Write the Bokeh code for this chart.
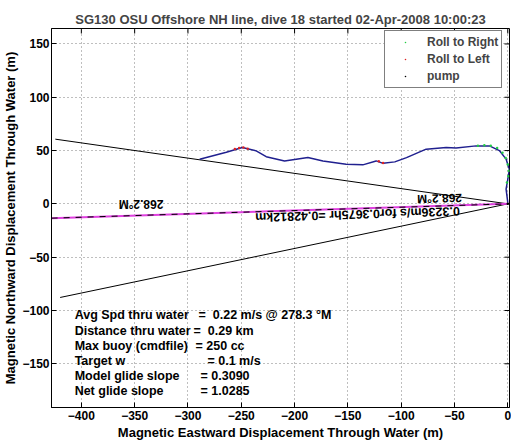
import math
from bokeh.plotting import figure
from bokeh.models import Range1d, FixedTicker, Legend, LegendItem, Label
from bokeh.embed import file_html
from bokeh.resources import INLINE

# ---------------- data ----------------
title_text = "SG130 OSU Offshore NH line, dive 18 started 02-Apr-2008 10:00:23"
x_label = "Magnetic Eastward Displacement Through Water (m)"
y_label = "Magnetic Northward Displacement Through Water (m)"

x_ticks = [-400, -350, -300, -250, -200, -150, -100, -50, 0]
y_ticks = [-150, -100, -50, 0, 50, 100, 150]

# glider track through water (m)
traj_x = [0, -1.6, 0, 1.5, 0, -1.6, -7.9, -17.2, -29.7, -48.5, -57.8, -76.6, -95, -106,
          -117, -123.5, -136, -151.6, -173.4, -187.5, -209.4, -226.6, -236, -249, -264, -289]
traj_y = [1.2, 13.8, 23, 32.5, 37, 42, 50, 54.4, 54.4, 52.3, 52.8, 51.3, 43.4, 39.4,
          38, 40.3, 36.6, 37.2, 40.3, 43.4, 40.3, 44.3, 49.7, 52.8, 48.5, 41.9]

# roll markers
roll_right_x = [-28, -22, -16, -10, -5, -2, 0, 1, 0.5, -0.8]
roll_right_y = [54.5, 54.9, 54.6, 52.5, 48, 43, 37, 31, 26, 20]
roll_left_x = [-256, -252, -248, -244, -121, -117]
roll_left_y = [51.5, 52.5, 52.8, 51.8, 40.0, 38.3]
pump_x = [0]
pump_y = [0]

# heading cone (+/-10 deg) and mean heading line
cone_x = [-424.4, 0, -419.9]
cone_y = [60.7, 0, -87.8]
head_x = [-427.9, 0]
head_y = [-13.4, 0]

heading_label = "268.2°M"
speed_label = "0.3236m/s for0.3675hr =0.42812km"

stat_labels = ["Avg Spd thru water", "Distance thru water", "Max buoy (cmdfile)",
               "Target w", "Model glide slope", "Net glide slope"]
stat_values = ["=\u00a0\u00a00.22 m/s @ 278.3\u00a0°M", "=\u00a0\u00a00.29 km", "=\u00a0250 cc",
               "=\u00a00.1 m/s", "=\u00a00.3090", "=\u00a01.0285"]

legend_labels = ["Roll to Right", "Roll to Left", "pump"]

# ---------------- figure ----------------
FONT = "Liberation Sans"
X0, X1 = -428.0, 1.6
Y0, Y1 = -191.0, 164.5
FH = 379
p = figure(frame_width=458, frame_height=FH, output_backend="svg", toolbar_location=None,
           x_range=Range1d(X0, X1), y_range=Range1d(Y0, Y1), title=title_text)
p.min_border_left = 47
p.min_border_right = 2
p.min_border_top = 28
p.min_border_bottom = 30

p.title.text_font = FONT
p.title.text_font_size = "13px"
p.title.text_font_style = "bold"
p.title.align = "center"
p.title.standoff = 4
p.title.offset = 0

p.outline_line_color = "black"
p.outline_line_width = 1

for ax, ticks in ((p.xaxis[0], x_ticks), (p.yaxis[0], y_ticks)):
    ax.ticker = FixedTicker(ticks=ticks)
    ax.major_tick_in = 5
    ax.major_tick_out = 0
    ax.minor_tick_line_color = None
    ax.axis_line_color = "black"
    ax.major_tick_line_color = "black"
    ax.major_label_text_font = FONT
    ax.major_label_text_font_size = "12px"
    ax.major_label_text_font_style = "bold"
    ax.major_label_text_color = "black"
    ax.major_label_standoff = 2
    ax.axis_label_text_font = FONT
    ax.axis_label_text_font_size = "13px"
    ax.axis_label_text_font_style = "bold"
    ax.axis_label_text_color = "black"
    ax.axis_label_standoff = 1
p.xaxis[0].axis_label = x_label
p.yaxis[0].axis_label = y_label
p.xaxis[0].major_label_standoff = 3
p.xaxis[0].axis_label_standoff = 2

for g in (p.xgrid[0], p.ygrid[0]):
    g.grid_line_color = "#7f7f7f"
    g.grid_line_dash = "1 3"
    g.grid_line_width = 1
p.xgrid[0].ticker = FixedTicker(ticks=x_ticks)
p.ygrid[0].ticker = FixedTicker(ticks=y_ticks)

# inner tick marks on the top and right edges (box on)
tick_len = 4.7
p.segment(x0=x_ticks, y0=[Y1] * len(x_ticks), x1=x_ticks, y1=[Y1 - tick_len] * len(x_ticks),
          line_color="black", line_width=1)
p.segment(x0=[X1] * len(y_ticks), y0=y_ticks, x1=[X1 - tick_len] * len(y_ticks), y1=y_ticks,
          line_color="black", line_width=1)

# cone and heading line
p.line(cone_x, cone_y, line_color="black", line_width=1)
p.line(head_x, head_y, line_color="#e040e0", line_width=2)
p.line(head_x, head_y, line_color="black", line_width=1, line_dash="6 6")

# track
p.line(traj_x, traj_y, line_color="#20208f", line_width=1.5)
r_right = p.scatter(roll_right_x, roll_right_y, size=2.5, color="#22cc44", line_width=0)
r_left = p.scatter(roll_left_x, roll_left_y, size=2.5, color="#dd2222", line_width=0)
r_pump = p.scatter(pump_x, pump_y, size=2.5, color="black", line_width=0)

def txt(x, y, s, angle=0.0, align="left", size="12px"):
    p.add_layout(Label(x=x, y=y, text=s, angle=angle, text_align=align,
                       text_baseline="middle", text_font=FONT, text_font_size=size,
                       text_font_style="bold", text_color="black"))

# heading texts (upside down, as drawn)
txt(-344, -0.3, heading_label, math.pi, "center")
txt(-64, 5.2, heading_label, math.pi + 0.0314, "center")
txt(-141, -9.7, speed_label, math.pi + 0.0314, "center", "12.5px")

# stats block
row_y = [-104.1, -119, -133.1, -147.2, -161.2, -175.3]
eq_x = [-290.1, -294.8, -292.9, -281.7, -288.2, -288.2]
for lab, val, yy, ex in zip(stat_labels, stat_values, row_y, eq_x):
    txt(-406.3, yy, lab, size="12.5px")
    txt(ex, yy, val, size="12.5px")

legend = Legend(items=[LegendItem(label=legend_labels[0], renderers=[r_right]),
                       LegendItem(label=legend_labels[1], renderers=[r_left]),
                       LegendItem(label=legend_labels[2], renderers=[r_pump])],
                location=(333, FH - 5 - 55))
legend.margin = 0
legend.padding = 3
legend.spacing = 1
legend.glyph_width = 34
legend.glyph_height = 4
legend.label_height = 16
legend.label_standoff = 5
legend.label_text_font = FONT
legend.label_text_font_size = "12px"
legend.label_text_font_style = "bold"
legend.label_text_baseline = "middle"
legend.border_line_color = "black"
legend.border_line_width = 1
legend.background_fill_alpha = 1
p.add_layout(legend, "center")

open("out.html", "w").write(file_html(p, INLINE))
